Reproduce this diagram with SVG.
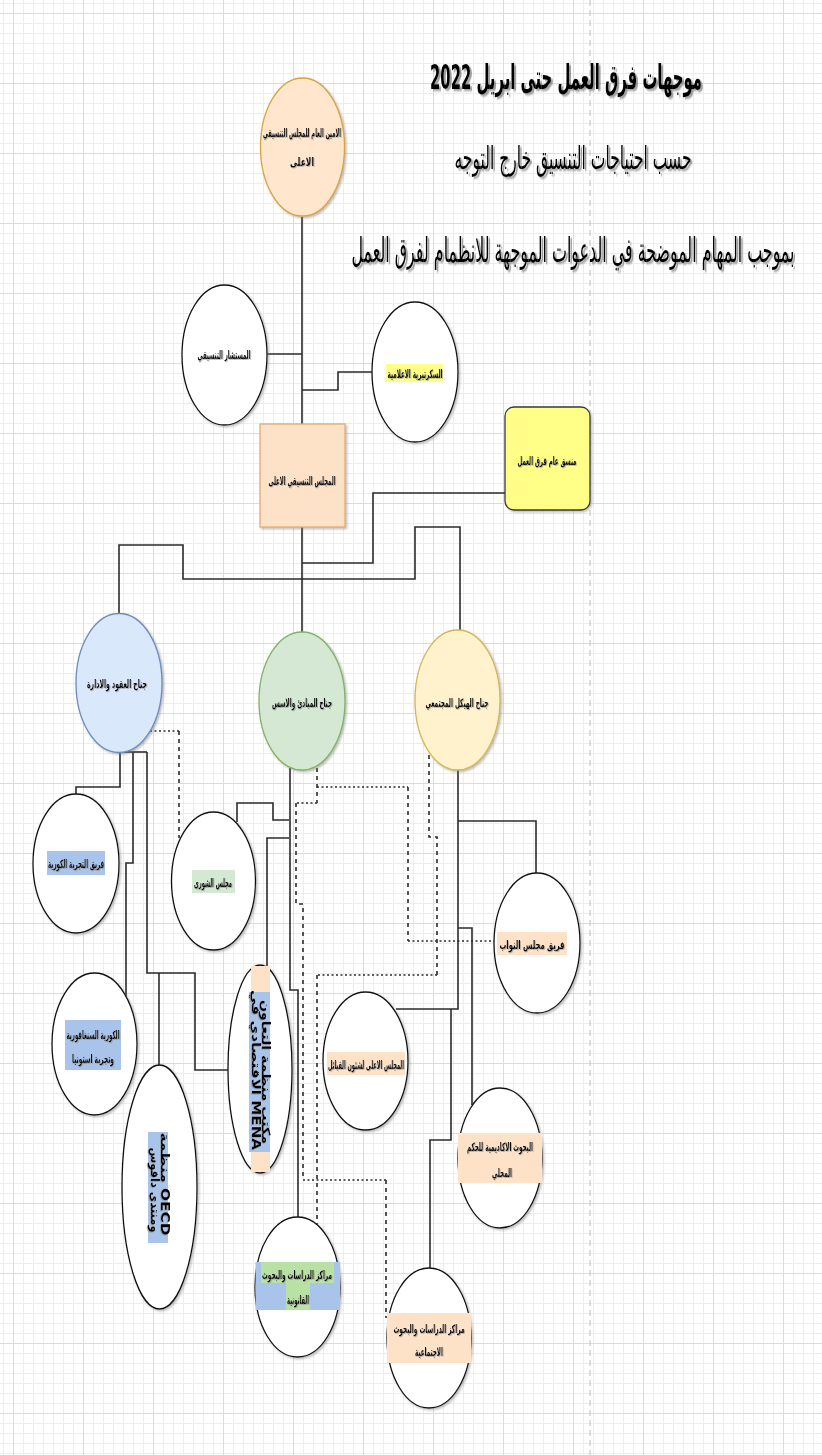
<svg xmlns="http://www.w3.org/2000/svg" width="822" height="1455" viewBox="0 0 822 1455">
<style>
.ar{font-family:'DejaVu Sans',sans-serif;fill:#000;text-anchor:middle}
.lbl{font-size:11.5px;font-weight:bold;filter:url(#ts)}
.node{stroke:#111;stroke-width:1.3;filter:url(#sh)}
.w{fill:#fff}
.con path{fill:none;stroke:#2b2b2b;stroke-width:1.6}
.con path.dh{stroke-dasharray:2 2.5}
.con path.dv{stroke-dasharray:4 4}
</style>
<defs>
<pattern id="minor" width="10" height="10" patternUnits="userSpaceOnUse">
<path d="M0 0.5 H10 M0.5 0 V10" fill="none" stroke="#ededed" stroke-width="1"/>
</pattern>
<pattern id="major" width="70" height="70" patternUnits="userSpaceOnUse" x="13" y="13">
<rect width="70" height="70" fill="url(#minor)"/>
<path d="M0 0.5 H70 M0.5 0 V70" fill="none" stroke="#dcdcdc" stroke-width="1"/>
</pattern>
<filter id="sh" x="-20%" y="-20%" width="140%" height="140%">
<feDropShadow dx="1.5" dy="1.5" stdDeviation="0.8" flood-color="#777" flood-opacity="0.5"/>
</filter>
<filter id="ts" filterUnits="userSpaceOnUse" x="0" y="0" width="822" height="1455">
<feDropShadow dx="0.8" dy="0.8" stdDeviation="0.3" flood-color="#888" flood-opacity="0.7"/>
</filter>
<filter id="tts" x="-10%" y="-40%" width="120%" height="180%">
<feDropShadow dx="2" dy="1" stdDeviation="0.5" flood-color="#777" flood-opacity="0.7"/>
</filter>
</defs>
<rect width="822" height="1455" fill="#fff"/>
<rect width="822" height="1455" fill="url(#major)"/>
<line x1="590" y1="0" x2="590" y2="1455" stroke="#bdbdbd" stroke-width="1" stroke-dasharray="6 4"/>

<g id="title">
<text class="ar" transform="translate(566 89) scale(1 2)" x="0" y="0" font-size="17" font-weight="bold" textLength="272" lengthAdjust="spacingAndGlyphs" filter="url(#tts)">موجهات فرق العمل حتى ابريل 2022</text>
<text class="ar" transform="translate(573 169) scale(1 2)" x="0" y="0" font-size="16" textLength="237" lengthAdjust="spacingAndGlyphs" filter="url(#tts)">حسب احتياجات التنسيق خارج التوجه</text>
<text class="ar" transform="translate(573 262) scale(1 2)" x="0" y="0" font-size="17" textLength="443" lengthAdjust="spacingAndGlyphs" filter="url(#tts)">بموجب المهام الموضحة في الدعوات الموجهة للانظمام لفرق العمل</text>
</g>

<g class="con" id="connectors">
<path d="M302,217 V424"/>
<path d="M267,354 H302"/>
<path d="M372,372 H338 V390 H302"/>
<path d="M505,493 H373 V563 H302"/>
<path d="M302,527 V632"/>
<path d="M119,614 V545 H183 V579 H415 V527 H460 V630"/>
<path d="M119,752 H147"/>
<path d="M120,752 V787 H76 V795"/>
<path d="M133,752 V863 H126 V996"/>
<path d="M147,752 V973 H195 V1070 H228"/>
<path d="M159,973 V1065"/>
<path d="M290,768 V990 H298 V1217"/>
<path d="M289,820 H273 V803 H237 V822"/>
<path d="M289,838 H267 V966"/>
<path d="M458,770 V1009 H396"/>
<path d="M458,821 H536 V873"/>
<path d="M458,928 H472 V1105"/>
<path d="M451,1009 V1140 H430 V1268"/>
<path class="dh" d="M150,731 H179"/>
<path class="dv" d="M179,731 V838"/>
<path class="dv" d="M317,768 V803"/>
<path class="dh" d="M317,803 H296"/>
<path class="dv" d="M296,803 V904 H303 V1180"/>
<path class="dh" d="M303,1180 H386"/>
<path class="dv" d="M386,1180 V1318"/>
<path class="dh" d="M317,787 H408"/>
<path class="dv" d="M408,787 V941"/>
<path class="dh" d="M408,941 H494"/>
<path class="dv" d="M429,755 V837 H437 V975"/>
<path class="dh" d="M437,975 H317"/>
<path class="dv" d="M317,975 V1225"/>
</g>

<g id="n-amin">
<ellipse class="node" cx="302.5" cy="147" rx="42" ry="69" fill="#ffe6cc" style="stroke:#d9a441"/>
<text class="ar lbl" x="302" y="137" textLength="78" lengthAdjust="spacingAndGlyphs">الامين العام للمجلس التنسيقي</text>
<text class="ar lbl" x="302" y="166" textLength="24" lengthAdjust="spacingAndGlyphs">الاعلى</text>
</g>

<g id="n-mustashar">
<ellipse class="node w" cx="224.5" cy="355" rx="42.5" ry="70"/>
<text class="ar lbl" x="224" y="359" textLength="53" lengthAdjust="spacingAndGlyphs">المستشار التنسيقي</text>
</g>

<g id="n-sekretaria">
<ellipse class="node w" cx="415" cy="372" rx="43" ry="70"/>
<rect x="386" y="364" width="57" height="18" fill="#ffff88"/>
<text class="ar lbl" x="415" y="378" textLength="55" lengthAdjust="spacingAndGlyphs">السكرتيرية الاعلامية</text>
</g>

<g id="n-majlis">
<rect class="node" x="260" y="424" width="85" height="103" fill="#fde2c8" style="stroke:#e3ad72"/>
<text class="ar lbl" x="302" y="485" textLength="67" lengthAdjust="spacingAndGlyphs">المجلس التنسيقي الاعلى</text>
</g>

<g id="n-munassiq">
<rect class="node" x="505" y="407" width="85" height="103" rx="9" fill="#ffff88" style="stroke:#36393d"/>
<text class="ar lbl" x="547" y="465" textLength="59" lengthAdjust="spacingAndGlyphs">منسق عام فرق العمل</text>
</g>

<g id="n-uqud">
<ellipse class="node" cx="119" cy="683" rx="43" ry="69.5" fill="#dae8fc" style="stroke:#6c8ebf"/>
<text class="ar lbl" x="117" y="688" textLength="60" lengthAdjust="spacingAndGlyphs">جناح العقود والادارة</text>
</g>

<g id="n-mabadi">
<ellipse class="node" cx="302" cy="701" rx="43" ry="69" fill="#d5e8d4" style="stroke:#82b366"/>
<text class="ar lbl" x="302" y="707" textLength="60" lengthAdjust="spacingAndGlyphs">جناح المبادئ والاسس</text>
</g>

<g id="n-haykal">
<ellipse class="node" cx="457.5" cy="700" rx="42.5" ry="70" fill="#fff2cc" style="stroke:#d6b656"/>
<text class="ar lbl" x="457" y="707" textLength="63" lengthAdjust="spacingAndGlyphs">جناح الهيكل المجتمعي</text>
</g>

<g id="n-korea">
<ellipse class="node w" cx="76" cy="863.5" rx="43" ry="69.5"/>
<rect x="47" y="851" width="58" height="24" fill="#a9c4eb"/>
<text class="ar lbl" x="76" y="868" textLength="56" lengthAdjust="spacingAndGlyphs">فريق التجربة الكورية</text>
</g>

<g id="n-shura">
<ellipse class="node w" cx="213.5" cy="881" rx="42" ry="69"/>
<rect x="192" y="870" width="43" height="23" fill="#d5e8d4"/>
<text class="ar lbl" x="213" y="887" textLength="38" lengthAdjust="spacingAndGlyphs">مجلس الشورى</text>
</g>

<g id="n-nuwwab">
<ellipse class="node w" cx="537" cy="943" rx="43" ry="70"/>
<rect x="497" y="932" width="70" height="23" fill="#fde2c8"/>
<text class="ar lbl" x="532" y="949" textLength="65" lengthAdjust="spacingAndGlyphs">فريق مجلس النواب</text>
</g>

<g id="n-singapore">
<ellipse class="node w" cx="94.5" cy="1044" rx="42.5" ry="71"/>
<rect x="65" y="1020" width="56" height="50" fill="#a9c4eb"/>
<text class="ar lbl" x="93" y="1039" textLength="53" lengthAdjust="spacingAndGlyphs">الكورية السنغافورية</text>
<text class="ar lbl" x="93" y="1063" textLength="42" lengthAdjust="spacingAndGlyphs">وتجربة استونيا</text>
</g>

<g id="n-mena">
<ellipse class="node w" cx="260" cy="1069" rx="32" ry="104"/>
<rect x="251" y="966" width="19" height="206" fill="#fde2c8"/>
<rect x="249" y="992" width="21" height="160" fill="#a9c4eb"/>
<g transform="rotate(90 260 1070)">
<text class="ar lbl" x="262" y="1068" font-size="9" textLength="144" lengthAdjust="spacingAndGlyphs">مكتب منظمة التعاون</text>
<text class="ar lbl" x="260" y="1078" font-size="9" textLength="160" lengthAdjust="spacingAndGlyphs">الاقتصادي في MENA</text>
</g>
</g>

<g id="n-oecd">
<ellipse class="node w" cx="159.5" cy="1187" rx="37.5" ry="122"/>
<rect x="148" y="1132" width="20" height="111" fill="#a9c4eb"/>
<g transform="rotate(90 159 1187)">
<text class="ar lbl" x="156" y="1185" font-size="9" textLength="103" lengthAdjust="spacingAndGlyphs">منظمة OECD</text>
<text class="ar lbl" x="162" y="1195" font-size="9" textLength="85" lengthAdjust="spacingAndGlyphs">ومنتدى دافوس</text>
</g>
</g>

<g id="n-qabail">
<ellipse class="node w" cx="365.5" cy="1061" rx="42.5" ry="69"/>
<rect x="327" y="1052" width="78" height="23" fill="#fde2c8"/>
<text class="ar lbl" x="366" y="1069" textLength="76" lengthAdjust="spacingAndGlyphs">المجلس الاعلى لشئون القبائل</text>
</g>

<g id="n-academic">
<ellipse class="node w" cx="500" cy="1158" rx="42" ry="70"/>
<rect x="458" y="1133" width="84" height="50" fill="#fde2c8"/>
<text class="ar lbl" x="500" y="1151" textLength="66" lengthAdjust="spacingAndGlyphs">البحوث الاكاديمية للحكم</text>
<text class="ar lbl" x="502" y="1177" textLength="20" lengthAdjust="spacingAndGlyphs">المحلي</text>
</g>

<g id="n-legal">
<ellipse class="node w" cx="297.5" cy="1287" rx="42.5" ry="70"/>
<rect x="255.5" y="1262" width="84.5" height="48" fill="#a9c4eb"/>
<rect x="261" y="1262" width="73" height="21" fill="#b9e0a5"/>
<rect x="286" y="1283" width="24" height="27" fill="#b9e0a5"/>
<text class="ar lbl" x="297" y="1279" textLength="70" lengthAdjust="spacingAndGlyphs">مراكز الدراسات والبحوث</text>
<text class="ar lbl" x="298" y="1304" textLength="22" lengthAdjust="spacingAndGlyphs">القانونية</text>
</g>

<g id="n-social">
<ellipse class="node w" cx="429" cy="1338" rx="42" ry="70"/>
<rect x="387" y="1313" width="84" height="50" fill="#fde2c8"/>
<text class="ar lbl" x="429" y="1333" textLength="71" lengthAdjust="spacingAndGlyphs">مراكز الدراسات والبحوث</text>
<text class="ar lbl" x="429" y="1356" textLength="28" lengthAdjust="spacingAndGlyphs">الاجتماعية</text>
</g>
</svg>
